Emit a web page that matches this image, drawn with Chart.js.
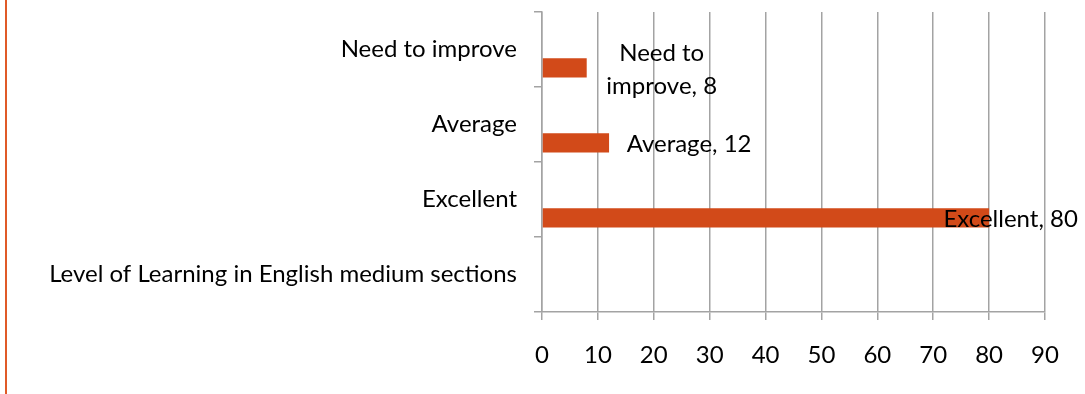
<!DOCTYPE html>
<html>
<head>
<meta charset="utf-8">
<script src="https://cdn.jsdelivr.net/npm/chart.js@4/dist/chart.umd.min.js"></script>
<style>
  html, body { margin: 0; padding: 0; background: #ffffff; overflow: hidden; }
  #wrap { position: relative; width: 1085px; height: 394px; }
  canvas { display: block; }
</style>
</head>
<body>
<div id="wrap"><canvas id="chart" width="1085" height="394"></canvas></div>
<script>
// Categories, top to bottom
const categories = [
  'Need to improve',
  'Average',
  'Excellent',
  'Level of Learning in English medium sections'
];
// Empty leading series (keeps the bars in the lower half of each band)
const spacerValues = [null, null, null, null];
// Percentage of respondents per level
const levelValues = [8, 12, 80, null];
// Value axis ticks
const xTicks = [0, 10, 20, 30, 40, 50, 60, 70, 80, 90];

// Styling
const FONT = 'Lato, "Open Sans", sans-serif';
const FONT_SIZE = 24;
const BAR_COLOR = '#D24A19';
const RULE_COLOR = '#E05A28';
const GRID_COLOR = '#a3a3a3';
const labelShift = [75, 80, 21.5];      // label centre distance from bar end
const labelWrap = [140, Infinity, Infinity];
const LABEL_LINE = 33;

function wrapText(ctx, text, maxW) {
  const words = text.split(' ');
  const lines = [];
  let cur = '';
  words.forEach(w => {
    const t = cur ? cur + ' ' + w : w;
    if (cur && ctx.measureText(t).width > maxW) { lines.push(cur); cur = w; }
    else cur = t;
  });
  if (cur) lines.push(cur);
  return lines;
}

const leftRule = {
  id: 'leftRule',
  beforeDraw(chart) {
    const ctx = chart.ctx;
    ctx.save();
    ctx.strokeStyle = RULE_COLOR;
    ctx.lineWidth = 2;
    ctx.beginPath();
    ctx.moveTo(6, 0);
    ctx.lineTo(6, chart.height);
    ctx.stroke();
    ctx.restore();
  }
};

const valueLabels = {
  id: 'valueLabels',
  afterDatasetsDraw(chart) {
    const ctx = chart.ctx;
    const meta = chart.getDatasetMeta(1);
    ctx.save();
    ctx.font = FONT_SIZE + 'px ' + FONT;
    ctx.fillStyle = '#000000';
    ctx.textAlign = 'center';
    ctx.textBaseline = 'middle';
    meta.data.forEach((bar, i) => {
      const v = levelValues[i];
      if (v == null) return;
      const lines = wrapText(ctx, categories[i] + ', ' + v, labelWrap[i]);
      const cx = bar.x + labelShift[i];
      const cy = bar.y + 1.5;
      lines.forEach((ln, k) => {
        ctx.fillText(ln, cx, cy + (k - (lines.length - 1) / 2) * LABEL_LINE);
      });
    });
    ctx.restore();
  }
};

new Chart(document.getElementById('chart'), {
  type: 'bar',
  data: {
    labels: categories,
    datasets: [
      { label: 'spacer', data: spacerValues, backgroundColor: BAR_COLOR },
      { label: 'Level', data: levelValues, backgroundColor: BAR_COLOR }
    ]
  },
  options: {
    indexAxis: 'y',
    responsive: false,
    animation: false,
    categoryPercentage: 0.98,
    barPercentage: 0.52,
    layout: { padding: { left: 0, right: 40, top: 12, bottom: 0 } },
    plugins: {
      legend: { display: false },
      tooltip: { enabled: false },
      title: { display: false }
    },
    scales: {
      x: {
        min: 0,
        max: 90,
        afterFit(scale) { scale.height = 82; },
        afterBuildTicks(scale) { scale.ticks = xTicks.map(v => ({ value: v })); },
        grid: {
          color: GRID_COLOR,
          lineWidth: 1.5,
          drawOnChartArea: true,
          drawTicks: true,
          tickLength: 8
        },
        border: { display: true, color: GRID_COLOR, width: 1.5 },
        ticks: {
          color: '#000000',
          font: { family: FONT, size: FONT_SIZE },
          padding: 21,
          maxRotation: 0
        }
      },
      y: {
        afterFit(scale) {
          scale.width = 542;
          scale.paddingTop = 0;
          scale.paddingBottom = 0;
        },
        grid: {
          color: GRID_COLOR,
          lineWidth: 1.5,
          offset: true,
          drawOnChartArea: false,
          drawTicks: true,
          tickLength: 8
        },
        border: { display: true, color: GRID_COLOR, width: 1.5 },
        ticks: {
          color: '#000000',
          font: { family: FONT, size: FONT_SIZE },
          padding: 17
        }
      }
    }
  },
  plugins: [leftRule, valueLabels]
});
</script>
</body>
</html>
